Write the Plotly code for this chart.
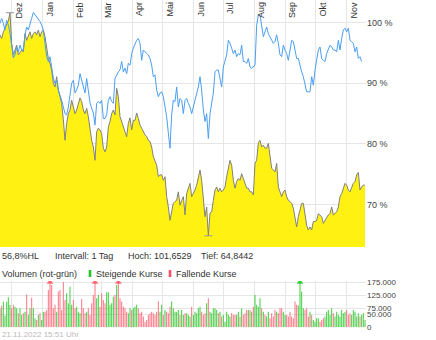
import pandas as pd
import numpy as np
import plotly.graph_objects as go

# ---------------- data ----------------
start_date = "2021-11-20"
sample_step = "40h"
end_date = "2022-11-21"

stock_pct = [
    98.0, 97.4, 98.5, 99.1, 99.9, 100.3, 101.6529, 96.6, 94.7, 95.5,
    96.3, 94.7, 95.2, 95.5, 95.2, 98.2, 97.1, 97.7, 98.5, 97.4,
    98.2, 98.5, 98.0, 98.8, 97.7, 98.5, 98.8, 97.7, 95.5, 94.1,
    93.3, 92.2, 90.0, 89.4, 91.1, 88.9, 87.8, 86.7, 84.0, 80.6,
    83.4, 85.0, 85.6, 87.2, 86.1, 85.0, 85.6, 86.7, 87.6, 87.0,
    85.6, 85.0, 85.9, 84.5,
    82.0, 80.6, 79.5, 77.3, 82.0, 82.6, 82.3, 81.7, 79.3, 78.7,
    79.5, 82.8, 83.7, 85.0, 85.6, 84.8, 89.2, 87.8, 84.5, 83.7,
    82.8, 82.3, 81.2, 83.4, 84.3, 82.3, 83.9, 83.9, 85.1, 84.2,
    83.1, 82.6, 82.0, 81.5, 81.2, 80.6, 80.4, 79.5, 77.9, 77.1,
    76.5, 74.6, 74.9, 74.9, 74.0, 74.6, 71.3, 69.6, 67.4, 68.8,
    70.2, 70.5, 70.7, 72.1,
    69.9, 70.7, 71.3, 68.3, 71.8, 72.7, 73.5, 71.3, 71.8, 72.4,
    73.2, 74.6, 75.7, 74.0, 70.2, 68.0, 69.6, 64.8442, 68.6, 68.8,
    70.7, 72.4, 72.9, 72.1, 72.7, 72.1, 72.4, 72.9, 74.6, 76.0,
    77.3, 76.5, 74.0, 72.7, 73.8, 74.3, 74.0, 75.1, 74.3, 73.8,
    72.7, 72.7, 72.1, 72.1, 71.6, 76.8, 77.3, 80.2, 80.6, 79.5,
    79.8, 79.3, 79.3, 80.1,
    77.5, 76.0, 75.7, 75.4, 76.8, 72.9, 72.1, 71.3, 72.1, 72.4,
    71.3, 70.7, 70.5, 70.2, 69.4, 68.0, 66.3, 68.0, 69.1, 70.2,
    70.2, 68.0, 66.6, 65.8, 66.3, 65.8, 67.2, 67.2, 67.4, 68.5,
    68.3, 68.0, 66.9, 67.4, 67.7, 68.3, 68.5, 69.6, 68.3, 68.5,
    68.8, 69.6, 71.3, 71.8, 72.7, 73.5, 73.2, 72.4, 72.1, 72.9,
    73.5, 73.8, 74.9, 75.3, 72.4, 72.9, 73.2, 73.2,
]

index_pct = [
    99.9, 100.7, 99.9, 98.8, 100.4, 99.6, 98.3, 95.8, 94.2, 94.7,
    96.0, 95.2, 96.3, 95.5, 95.5, 98.0, 99.3, 98.8, 99.6, 100.7,
    101.7, 101.3, 101.0, 100.7, 100.2, 99.6, 98.8, 96.6, 94.4, 93.6,
    94.4, 92.7, 90.9, 90.0, 90.5, 88.9, 88.1, 87.2, 86.1, 85.0,
    84.8, 86.1, 88.1, 90.0, 90.5, 88.4, 88.9, 89.7, 91.6, 90.5,
    89.4, 88.4, 90.8, 88.9,
    86.8, 85.9, 85.1, 83.1, 86.7, 87.0, 86.7, 87.2, 84.2, 84.2,
    84.8, 87.2, 87.8, 87.0, 86.7, 90.8, 91.4, 91.9, 92.2, 93.6,
    91.9, 92.5, 91.6, 93.3, 93.0, 94.9, 95.8, 96.6, 97.1, 97.4,
    96.6, 93.8, 95.5, 95.2, 94.9, 94.7, 94.1, 93.0, 91.1, 91.4,
    88.9, 87.8, 88.4, 88.6, 87.8, 86.1, 84.5, 81.8, 79.3, 84.8,
    87.2, 87.0, 89.4, 86.1,
    87.5, 87.2, 85.0, 87.2, 87.5, 86.7, 86.1, 85.0, 86.1, 87.2,
    88.4, 89.4, 91.1, 88.9, 85.6, 83.7, 85.0, 80.9, 85.0, 87.2,
    88.4, 91.9, 92.2, 92.2, 90.5, 89.4, 92.7, 93.6, 94.7, 97.1,
    96.6, 95.8, 94.9, 95.5, 94.4, 94.9, 94.7, 96.3, 93.6, 93.6,
    93.3, 94.1, 92.7, 92.5, 92.7, 93.0, 99.6, 101.3, 101.3, 99.3,
    97.7, 98.5, 99.3, 98.2,
    97.7, 97.1, 96.6, 96.9, 98.0, 96.6, 94.7, 94.4, 96.3, 95.5,
    94.9, 93.8, 95.5, 97.1, 96.9, 95.5, 94.1, 94.1, 92.7, 91.9,
    91.1, 90.0, 88.6, 88.6, 88.6, 91.1, 89.7, 92.2, 93.6, 95.5,
    96.0, 94.1, 93.8, 93.6, 94.9, 95.5, 96.3, 96.0, 95.5, 95.5,
    95.2, 97.1, 95.5, 97.4, 98.8, 99.1, 98.5, 99.1, 97.1, 96.9,
    96.6, 95.2, 96.0, 94.1, 94.4, 93.6,
]

volume_k = [
    74, 84, 100, 46, 100, 118, 88, 75, 88, 81,
    75, 55, 75, 48, 55, 61, 129, 48, 75, 116,
    75, 35, 29, 48, 55, 29, 61, 61, 68, 146,
    190, 166, 75, 88, 61, 140, 146, 68, 178, 107,
    133, 94, 159, 88, 107, 75, 81, 61, 55, 111,
    75, 55, 61, 75, 48, 94, 127, 195, 114, 127,
    81, 133, 107, 94, 137, 137, 88, 94, 120, 127,
    166, 200, 114, 101, 81, 75, 61, 55, 75, 68,
    75, 81, 88, 75, 55, 61, 42, 22, 29, 48,
    55, 61, 55, 48, 61, 101, 61, 88, 48, 68,
    61, 55, 81, 101, 75, 61, 61, 68, 48, 68,
    48,
    55, 55, 48, 42, 81, 48, 61, 55, 75, 81,
    61, 48, 55, 94, 114, 61, 55, 75, 75, 68,
    55, 61, 42, 48, 22, 61, 48, 42, 55, 48,
    48, 48, 61, 42, 75, 48, 55, 68, 68, 68,
    61, 81, 127, 88, 81, 114, 75, 61, 48, 42,
    61, 35, 55, 42, 68, 61, 55, 75, 75, 61,
    48, 48, 42, 61, 42, 35, 101, 88, 85, 195,
    140, 75, 68, 75, 42, 61, 48, 29, 22, 35,
    35, 22, 29, 35, 42, 61, 68, 48, 75, 55,
    42, 61, 48, 42, 68, 55, 61, 68, 48, 55,
    48, 68, 61, 42, 55, 42, 48, 55, 29,
]

month_labels = ["Dez", "Jan", "Feb", "Mär", "Apr", "Mai", "Jun",
                "Jul", "Aug", "Sep", "Okt", "Nov"]
month_starts = pd.date_range("2021-12-01", periods=12, freq="MS")

price_ticks = [70, 80, 90, 100]
price_tick_text = ["70 %", "80 %", "90 %", "100 %"]
volume_ticks = [0, 50000, 75000, 125000, 175000]
volume_tick_text = ["0", "50.000", "75.000", "125.000", "175.000"]
price_range = [63.0, 103.75]
volume_max = 181500

interval_text = "Intervall: 1 Tag"
timestamp_text = "21.11.2022 15:51 Uhr"

# ---------------- derived ----------------
dates = pd.date_range(start_date, periods=len(stock_pct), freq=sample_step)
idx_dates = dates[:len(index_pct)]
vol = np.array(volume_k[:len(stock_pct)], dtype=float) * 1000
stock = np.array(stock_pct)

hoch = float(stock.max())
tief = float(stock.min())
hl = (hoch - tief) / tief * 100


def de(v, nd):
    return f"{v:.{nd}f}".replace(".", ",")


up = np.r_[True, stock[1:] >= stock[:-1]]
GREEN = "rgba(30,200,30,0.85)"
RED = "rgba(255,80,100,0.8)"
bar_colors = [GREEN if u else RED for u in up]

W, H = 436, 340
plot_right = 366
FONT = "Liberation Sans, Arial, sans-serif"


def px_x(p):
    return p / W


def px_y(p):
    return 1 - p / H


fig = go.Figure()

fig.add_trace(go.Scatter(
    x=dates, y=stock, mode="lines",
    line=dict(color="#808080", width=1),
    fill="tozeroy", fillcolor="rgba(255,240,0,0.93)",
    hoverinfo="skip", showlegend=False, xaxis="x", yaxis="y"))

fig.add_trace(go.Scatter(
    x=idx_dates, y=index_pct, mode="lines",
    line=dict(color="#4b9ff2", width=1),
    hoverinfo="skip", showlegend=False, xaxis="x", yaxis="y"))

# high / low markers
for pos in (int(stock.argmax()), int(stock.argmin())):
    d = dates[pos]
    fig.add_trace(go.Scatter(
        x=[d - pd.Timedelta(days=4), d + pd.Timedelta(days=4)],
        y=[stock[pos], stock[pos]], mode="lines",
        line=dict(color="#999999", width=1),
        hoverinfo="skip", showlegend=False, xaxis="x", yaxis="y"))

fig.add_trace(go.Bar(
    x=dates, y=vol, marker=dict(color=bar_colors, line=dict(width=0)),
    width=86400000 * 1.0, hoverinfo="skip", showlegend=False,
    xaxis="x2", yaxis="y2"))

clip = vol > volume_max
fig.add_trace(go.Scatter(
    x=dates[clip], y=[volume_max * 0.975] * int(clip.sum()), mode="markers",
    marker=dict(symbol="triangle-up", size=6,
                color=[c for c, k in zip(bar_colors, clip) if k]),
    hoverinfo="skip", showlegend=False, xaxis="x2", yaxis="y2"))

grid = "#e6e6e6"
xcommon = dict(
    type="date", range=[start_date, end_date], showticklabels=False,
    tickmode="array", tickvals=month_starts, showgrid=True, gridcolor=grid,
    gridwidth=1, zeroline=False, ticks="", showline=False,
    domain=[0, px_x(plot_right)])

fig.update_layout(
    width=W, height=H,
    margin=dict(l=0, r=0, t=0, b=0, autoexpand=False),
    paper_bgcolor="white", plot_bgcolor="white",
    separators=",.",
    font=dict(family=FONT, size=9, color="#333333"),
    xaxis=dict(**xcommon, anchor="y"),
    xaxis2=dict(**xcommon, anchor="y2", matches="x"),
    yaxis=dict(domain=[px_y(247), 1], range=price_range, side="right",
               anchor="x", tickmode="array", tickvals=price_ticks,
               ticktext=price_tick_text, showgrid=True, gridcolor=grid,
               zeroline=False, ticks="", showline=False,
               tickfont=dict(size=9, color="#444444")),
    yaxis2=dict(domain=[px_y(327.3), px_y(281)], range=[0, volume_max],
                side="right", anchor="x2", tickmode="array",
                tickvals=volume_ticks, ticktext=volume_tick_text,
                showgrid=True, gridcolor=grid, zeroline=False, ticks="",
                showline=False, tickfont=dict(size=8, color="#444444")),
)

ann = []
for d, m in zip(month_starts, month_labels):
    ann.append(dict(x=d, y=1, xref="x", yref="paper", text=m,
                    textangle=-90, xanchor="left", yanchor="top",
                    showarrow=False, font=dict(size=9, color="#333333")))

row1_y = px_y(255.5)
row2_y = px_y(273.5)
info = [
    (0, f"{de(hl, 1)}%HL"),
    (53, interval_text),
    (126, f"Hoch: {de(hoch, 4)}"),
    (199, f"Tief: {de(tief, 4)}"),
]
for xp, t in info:
    ann.append(dict(x=px_x(xp), y=row1_y, xref="paper", yref="paper",
                    text=t, xanchor="left", yanchor="middle",
                    showarrow=False, font=dict(size=9, color="#333333")))
legend_items = [
    (0, "Volumen (rot-grün)"),
    (94.3, "Steigende Kurse"),
    (174.3, "Fallende Kurse"),
]
for xp, t in legend_items:
    ann.append(dict(x=px_x(xp), y=row2_y, xref="paper", yref="paper",
                    text=t, xanchor="left", yanchor="middle",
                    showarrow=False, font=dict(size=9, color="#333333")))
ann.append(dict(x=0, y=px_y(334.5), xref="paper", yref="paper",
                text=timestamp_text, xanchor="left", yanchor="middle",
                showarrow=False, font=dict(size=8, color="#bbbbbb")))
fig.update_layout(annotations=ann)

shapes = []
for x0, col in ((88.7, "rgb(30,200,30)"), (168.7, "rgb(255,80,100)")):
    shapes.append(dict(type="rect", xref="paper", yref="paper",
                       x0=px_x(x0), x1=px_x(x0 + 2.6),
                       y0=px_y(277), y1=px_y(270),
                       fillcolor=col, line=dict(width=0)))
fig.update_layout(shapes=shapes)

fig.write_html("out.html")
